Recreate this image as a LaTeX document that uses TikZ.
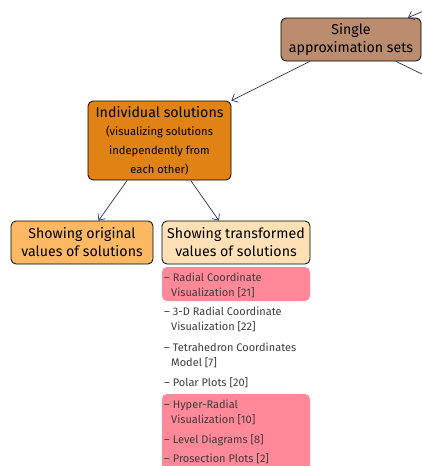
\documentclass[tikz,border=0pt]{standalone}
\usepackage{fontspec}
\setmainfont{Fira Sans}
\usepackage{tikz}
\usetikzlibrary{arrows.meta}

\definecolor{setbrown}{RGB}{187,140,110}
\definecolor{indivorange}{RGB}{225,130,20}
\definecolor{origorange}{RGB}{253,184,99}
\definecolor{transpeach}{RGB}{254,224,182}
\definecolor{markpink}{RGB}{255,136,153}
\definecolor{linknavy}{RGB}{30,50,100}
\definecolor{itemgray}{RGB}{60,60,60}
\newcommand{\sub}[1]{{\fontsize{11.2}{13}\selectfont #1}}

\begin{document}
\begin{tikzpicture}[x=1pt,y=-1pt,
  box/.style={draw=black,rounded corners=5pt,line width=0.8pt,align=center,inner sep=0pt,font=\fontsize{14.2}{18}\selectfont},
  link/.style={-{Straight Barb[length=5pt,width=9pt]},draw=linknavy,line width=0.7pt},
  entry/.style={anchor=north west,align=left,inner sep=0pt,text=itemgray,font=\fontsize{11}{15}\selectfont},
  hilite/.style={fill=markpink,rounded corners=5pt}]
\useasboundingbox (0,0) rectangle (422,466);

% highlighted entries
\fill[hilite] (162,267) rectangle (310,301);
\fill[hilite] (162,394) rectangle (310,476);

\node[box,fill=setbrown,minimum width=140pt,minimum height=43pt] (single) at (351,39.5) {Single\\approximation sets};
\node[box,fill=indivorange,minimum width=143pt,minimum height=79pt] (indiv) at (159.5,140.5)
  {Individual solutions\\[0pt]\sub{(visualizing solutions}\\[1pt]\sub{independently from}\\[1pt]\sub{each other)}};
\node[box,fill=origorange,minimum width=142pt,minimum height=43pt] (orig) at (82,242.5) {Showing original\\values of solutions};
\node[box,fill=transpeach,minimum width=148pt,minimum height=43pt] (trans) at (236,242.5) {Showing transformed\\values of solutions};

\coordinate (above) at (426,10);
\coordinate (aside) at (426,76);

\draw[link] (above) -- (single.21);
\draw[link] (single.208) -- (indiv.north east);
\draw[link,-] (single.334) -- (aside);
\draw[link] (indiv.231) -- (orig.53);
\draw[link] (indiv.308) -- (trans.128);

\node[entry] (rcv) at (164,273) {– Radial Coordinate\\\hspace*{7pt}Visualization [21]};
\node[entry] (rcv3) at (164,307) {– 3-D Radial Coordinate\\\hspace*{7pt}Visualization [22]};
\node[entry] (tcm) at (164,343) {– Tetrahedron Coordinates\\\hspace*{7pt}Model [7]};
\node[entry] (polar) at (164,377) {– Polar Plots [20]};
\node[entry] (hrv) at (164,400) {– Hyper-Radial\\\hspace*{7pt}Visualization [10]};
\node[entry] (level) at (164,434) {– Level Diagrams [8]};
\node[entry] (prosect) at (164,453) {– Prosection Plots [2]};
\end{tikzpicture}
\end{document}
